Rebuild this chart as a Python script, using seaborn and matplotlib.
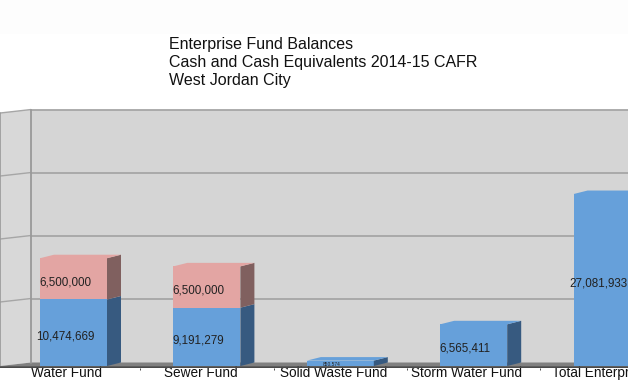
import matplotlib
matplotlib.use("Agg")
import matplotlib.pyplot as plt
from matplotlib.patches import Polygon, Rectangle
import pandas as pd
import seaborn as sns

categories = ["Water Fund", "Sewer Fund", "Solid Waste Fund", "Storm Water Fund", "Total Enterprise Funds"]
unrestricted = [10474669, 9191279, 850574, 6565411, 27081933]
restricted = [6500000, 6500000, 0, 0, 0]
unrestricted_labels = ["10,474,669", "9,191,279", "850,574", "6,565,411", "27,081,933"]
restricted_labels = ["6,500,000", "6,500,000", "", "", ""]
grid_values = [10000000, 20000000, 30000000, 40000000]
title_lines = ["Enterprise Fund Balances", "Cash and Cash Equivalents 2014-15 CAFR", "West Jordan City"]

W, H = 628, 390
BASE_PX, AXIS_PX = 366, 368
PX_PER_VAL = 6.35e-6
STEP_PX, FIRST_PX = 133.4, 73.5
DEPTH_X, DEPTH_Y = 14.0, 3.5
WALL_SCALE = 0.992
WALL_LIFT_PX = 1.0
TICK_SHIFT_PX = [-7, -6.5, -7, -7.5, 13]

BLUE, BLUE_D = "#66a0da", "#375a80"
PINK, PINK_D = "#e3a5a3", "#80605f"
WALL, GRID, FLOOR, EDGE = "#d5d5d5", "#a6a6a6", "#808080", "#4a4a4a"

sns.set_theme(style="white")
plt.rcParams["font.family"] = ["Liberation Sans", "DejaVu Sans"]

fig = plt.figure(figsize=(W / 100, H / 100), dpi=100, facecolor="white")
ax = fig.add_axes([0, (H - AXIS_PX) / H, 1, AXIS_PX / H])
ax.patch.set_alpha(0)

df = pd.DataFrame({"fund": categories, "unrestricted": unrestricted, "restricted": restricted})
df["stack"] = df["unrestricted"] + df["restricted"]
bar_w = 67 / STEP_PX

sns.barplot(data=df, x="fund", y="stack", color=PINK, saturation=1, width=bar_w, ax=ax,
            zorder=3, order=categories, linewidth=0)
sns.barplot(data=df, x="fund", y="unrestricted", color=BLUE, saturation=1, width=bar_w, ax=ax,
            zorder=4, order=categories, linewidth=0)

ax.set_xlim(-FIRST_PX / STEP_PX, (W - FIRST_PX) / STEP_PX)
ax.set_ylim(-(AXIS_PX - BASE_PX) / PX_PER_VAL, BASE_PX / PX_PER_VAL)

dx = DEPTH_X / STEP_PX
dy = DEPTH_Y / PX_PER_VAL
lift = WALL_LIFT_PX / PX_PER_VAL
x_left, x_right = ax.get_xlim()
x_wall = x_left + 31 / STEP_PX
top_val = max(grid_values) * WALL_SCALE

# faint band above the chart
fig.patches.append(Rectangle((0, (H - 34) / H), 1, 34 / H, transform=fig.transFigure,
                             facecolor="#fdfdfd", edgecolor="none", zorder=-5))

# walls and floor
ax.add_patch(Rectangle((x_wall, dy), x_right - x_wall, top_val + lift, facecolor=WALL, edgecolor="none", zorder=0))
ax.add_patch(Polygon([(x_left, 0), (x_wall, dy), (x_wall, dy + lift + top_val), (x_left, top_val + lift)],
                     facecolor="#d8d8d8", edgecolor="none", zorder=0))
ax.add_patch(Polygon([(x_left, 0), (x_wall, dy), (x_right, dy), (x_right, 0)],
                     facecolor=FLOOR, edgecolor="none", zorder=1))
for v in grid_values:
    y = v * WALL_SCALE + lift
    ax.plot([x_wall, x_right], [y + dy, y + dy], color=GRID, lw=1.3, zorder=1)
    ax.plot([x_left, x_wall], [y, y + dy], color=GRID, lw=1.0, zorder=1)
ax.plot([x_wall, x_wall], [dy, top_val + lift + dy], color="#999999", lw=1.3, zorder=1)
ax.plot([x_left, x_left], [0, top_val + lift], color="#999999", lw=1.2, zorder=1)


def box(i, lo, hi, front, side, top=True):
    xl, xr = i - bar_w / 2, i + bar_w / 2
    ax.add_patch(Polygon([(xr, lo), (xr + dx, lo + dy), (xr + dx, hi + dy), (xr, hi)],
                         facecolor=side, edgecolor="none", zorder=4))
    if top:
        ax.add_patch(Polygon([(xl, hi), (xl + dx, hi + dy), (xr + dx, hi + dy), (xr, hi)],
                             facecolor=front, edgecolor="none", zorder=4))


for i, (u, r) in enumerate(zip(unrestricted, restricted)):
    box(i, 0, u, BLUE, BLUE_D, top=(r == 0))
    if r:
        box(i, u, u + r, PINK, PINK_D)

label_drop = 3.5 / PX_PER_VAL
label_left = 8.5 / STEP_PX
for i, (u, r) in enumerate(zip(unrestricted, restricted)):
    small = u < 2000000
    y = u * 0.5 - (0.1 * label_drop if small else label_drop)
    ax.text(i - label_left, y, unrestricted_labels[i], ha="center", va="center",
            fontsize=3.5 if small else 8.4, color="#222222", zorder=6)
    if r:
        ax.text(i - label_left, u + r * 0.5 - label_drop, restricted_labels[i], ha="center", va="center",
                fontsize=8.4, color="#222222", zorder=6)

ax.axhline(-(AXIS_PX - BASE_PX) / PX_PER_VAL / 2, color=EDGE, lw=2, zorder=2)

ax.set_xlabel("")
ax.set_ylabel("")
ax.set_yticks([])
ax.set_xticks([i + s / STEP_PX for i, s in enumerate(TICK_SHIFT_PX)])
ax.set_xticklabels(categories, fontsize=9.8, color="#111111")
ax.set_xticks([i + 0.5 for i in range(len(categories) - 1)], minor=True)
ax.tick_params(axis="x", which="major", length=0, pad=-1.2)
ax.tick_params(axis="x", which="minor", length=1.2, width=0.7, color=EDGE, bottom=True)
for s in ax.spines.values():
    s.set_visible(False)

for line, py in zip(title_lines, [44.5, 62.5, 80.5]):
    fig.text(169 / W, 1 - py / H, line, ha="left", va="center", fontsize=11.5, color="#111111")

fig.savefig("out.png", dpi=100)
